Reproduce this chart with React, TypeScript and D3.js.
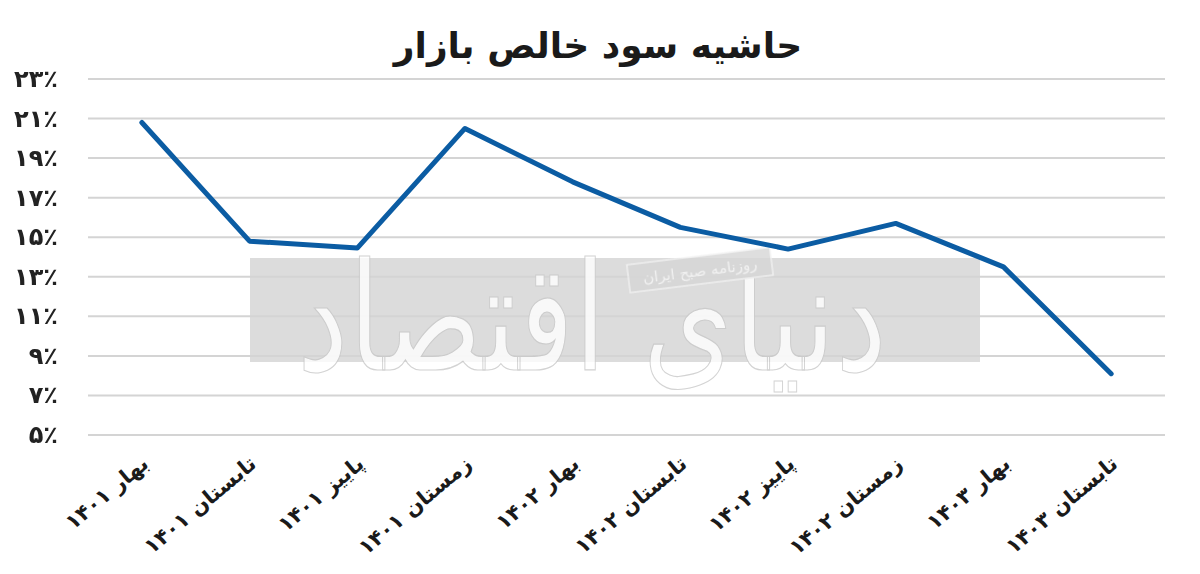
import * as d3 from "d3";

const categories = [
  "بهار ۱۴۰۱",
  "تابستان ۱۴۰۱",
  "پاییز ۱۴۰۱",
  "زمستان ۱۴۰۱",
  "بهار ۱۴۰۲",
  "تابستان ۱۴۰۲",
  "پاییز ۱۴۰۲",
  "زمستان ۱۴۰۲",
  "بهار ۱۴۰۳",
  "تابستان ۱۴۰۳",
];
const margin = [20.8, 14.8, 14.45, 20.5, 17.8, 15.5, 14.4, 15.7, 13.5, 8.1];
const yTicks = [5, 7, 9, 11, 13, 15, 17, 19, 21, 23];

const W = 1200;
const H = 574;
const FONT = "'DejaVu Sans', 'Noto Sans', sans-serif";

const toFa = (n: number) => String(n).replace(/\d/g, (d) => "۰۱۲۳۴۵۶۷۸۹"[+d]);

export default function App() {
  const x = d3.scalePoint<string>().domain(categories).range([88, 1165]).padding(0.5);
  const y = d3.scaleLinear().domain([5, 23]).range([435, 79]);

  const line = d3
    .line<number>()
    .x((_, i) => x(categories[i]) as number)
    .y((d) => y(d));

  return (
    <svg width={W} height={H} style={{ position: "absolute", left: 0, top: 0, background: "#fff" }}>
      <rect width={W} height={H} fill="#fff" />
      <text x={598} y={58} textAnchor="middle" fontFamily={FONT} fontWeight="bold" fontSize={36} fill="#1a1a1a">
        حاشیه سود خالص بازار
      </text>

      {/* watermark box */}
      <rect x={250} y={258} width={730} height={104} fill="#dcdcdc" />

      {/* gridlines */}
      {yTicks.map((t) => (
        <line key={t} x1={88} x2={1165} y1={y(t)} y2={y(t)} stroke="#d4d4d4" strokeWidth={2} />
      ))}

      {/* watermark text */}
      <g opacity={0.8}>
        <text
          x={592}
          y={370}
          textAnchor="middle"
          fontFamily={FONT}
          fontSize={150}
          fill="#ffffff"
          stroke="#c8c8c8"
          strokeWidth={1.2}
          textLength={590}
          lengthAdjust="spacingAndGlyphs"
        >
          دنیای اقتصاد
        </text>
        <g transform="translate(700,270) rotate(-7)">
          <rect x={-72} y={-14} width={144} height={28} fill="#d6d6d6" stroke="#f4f4f4" strokeWidth={1.5} />
          <text x={0} y={6} textAnchor="middle" fontFamily={FONT} fontSize={15} fill="#f7f7f7">
            روزنامه صبح ایران
          </text>
        </g>
      </g>

      {/* y tick labels */}
      {yTicks.map((t) => (
        <text
          key={t}
          x={58}
          y={y(t) + 8}
          textAnchor="end"
          fontFamily={FONT}
          fontWeight="bold"
          fontSize={24}
          fill="#222"
          direction="ltr"
        >
          {toFa(t) + "٪"}
        </text>
      ))}

      {/* series */}
      <path
        d={line(margin) || ""}
        fill="none"
        stroke="#0b5ca3"
        strokeWidth={5}
        strokeLinejoin="round"
        strokeLinecap="round"
      />

      {/* x labels */}
      {categories.map((c) => (
        <text
          key={c}
          transform={`translate(${(x(c) as number) + 8},${466}) rotate(-40)`}
          textAnchor="end"
          fontFamily={FONT}
          fontWeight="bold"
          fontSize={21}
          fill="#1a1a1a"
        >
          {c}
        </text>
      ))}
    </svg>
  );
}
